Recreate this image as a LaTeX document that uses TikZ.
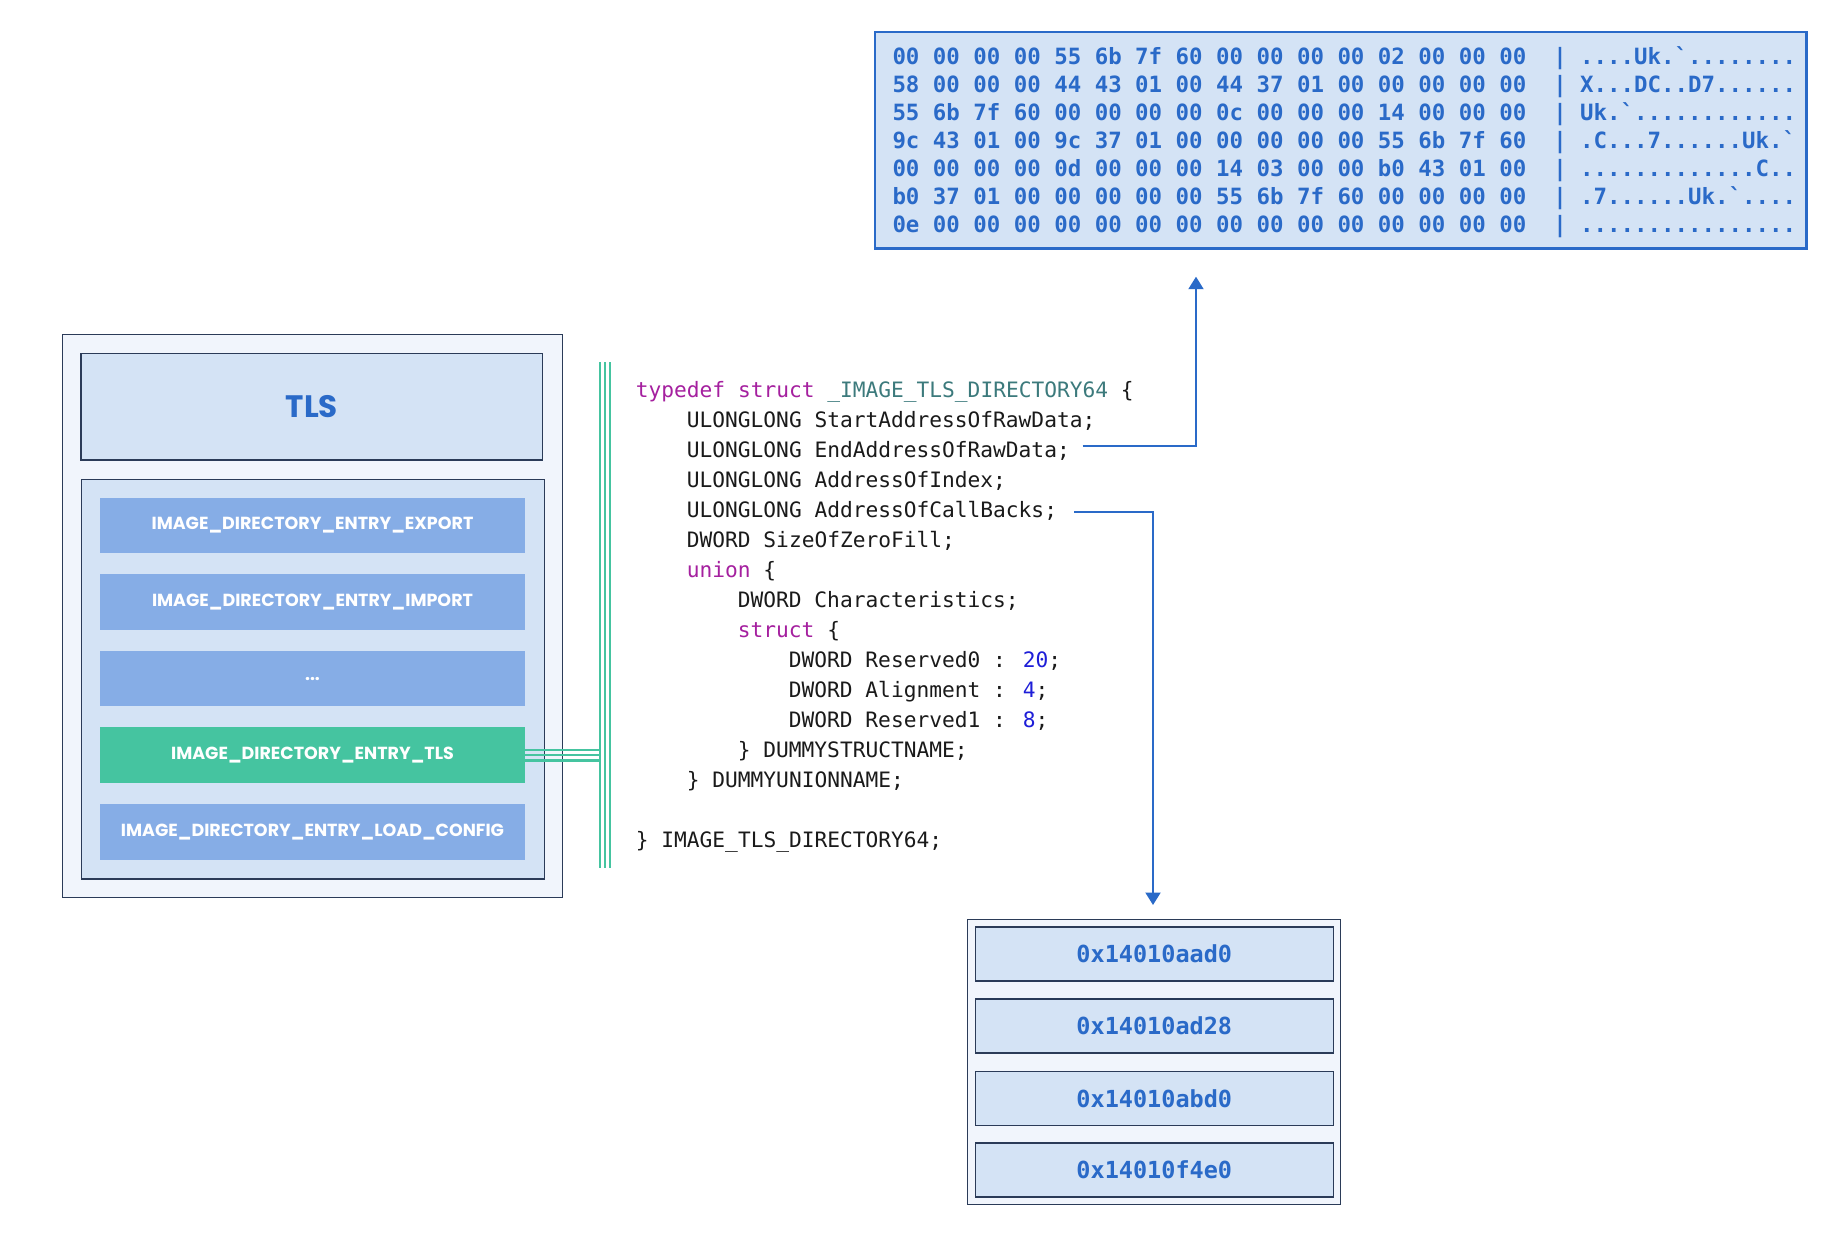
\documentclass[tikz,border=0pt]{standalone}
\usepackage{fontspec}
\usetikzlibrary{arrows.meta}
\newfontfamily\codefont{DejaVu Sans Mono}
\newfontfamily\labfont{Poppins}
\definecolor{lightfill}{HTML}{D4E3F5}
\definecolor{paleFill}{HTML}{F1F5FC}
\definecolor{navy}{HTML}{2B3B58}
\definecolor{barblue}{HTML}{86ADE6}
\definecolor{tlsgreen}{HTML}{45C4A0}
\definecolor{txtblue}{HTML}{2A6AC8}
\definecolor{kw}{HTML}{A5209F}
\definecolor{ty}{HTML}{3C7A7C}
\definecolor{num}{HTML}{1E1ED8}
\definecolor{codeblack}{HTML}{1A1A1A}
\tikzset{
  box/.style={draw=navy, line width=1.5pt, inner sep=0pt, outer sep=0pt},
  bar/.style={fill=barblue, inner sep=0pt, outer sep=0pt, text=white,
    minimum width=425pt, minimum height=55.5pt,
    font=\labfont\bfseries\fontsize{17.5}{20}\selectfont},
  addrrow/.style={box, fill=lightfill, text=txtblue, minimum width=358pt, minimum height=54pt,
    font=\codefont\bfseries\fontsize{23.5}{26}\selectfont},
  codeline/.style={anchor=base west, inner sep=0pt, text=codeblack,
    font=\codefont\fontsize{21.2}{25}\selectfont},
  hexline/.style={anchor=base west, inner sep=0pt, text=txtblue,
    font=\codefont\bfseries\fontsize{22.4}{26}\selectfont},
  bluearrow/.style={draw=txtblue, line width=2pt, -{Triangle[length=12.5pt,width=15pt]}},
  greenline/.style={draw=tlsgreen, line width=2.2pt}
}
\begin{document}
\begin{tikzpicture}[x=1pt,y=-1pt]
\fill[white] (0,0) rectangle (1826,1248);
\useasboundingbox (0,0) rectangle (1826,1248);

% ---------- left panel ----------
\node[box, fill=paleFill, minimum width=500pt, minimum height=562.6pt] (outer) at (312.3,616) {};
\node[box, fill=lightfill, minimum width=461.7pt, minimum height=106.3pt,
  text=txtblue, font=\labfont\bfseries\fontsize{31}{34}\selectfont] (tls) at (311.85,406.85) {TLS};
\node[box, fill=lightfill, minimum width=462.6pt, minimum height=399.7pt] (inner) at (313,679.15) {};
\node[bar] (exp) at (312.5,525.4) {IMAGE\_DIRECTORY\_ENTRY\_EXPORT};
\node[bar] (imp) at (312.5,602) {IMAGE\_DIRECTORY\_ENTRY\_IMPORT};
\node[bar] (dots) at (312.5,678.6) {...};
\node[bar, fill=tlsgreen] (tlsbar) at (312.5,755.2) {IMAGE\_DIRECTORY\_ENTRY\_TLS};
\node[bar] (load) at (312.5,831.8) {IMAGE\_DIRECTORY\_ENTRY\_LOAD\_CONFIG};

% ---------- green triple connector ----------
\coordinate (g1t) at (599.7,362);  \coordinate (g1b) at (599.7,867.7);
\coordinate (g2t) at (604.7,362);  \coordinate (g2b) at (604.7,867.7);
\coordinate (g3t) at (609.7,362);  \coordinate (g3b) at (609.7,867.7);
\draw[greenline] (g1t) -- (g1b);
\draw[greenline] (g2t) -- (g2b);
\draw[greenline] (g3t) -- (g3b);
\draw[greenline] ([yshift=-5.2pt]tlsbar.east) -- ([yshift=-5.2pt]tlsbar.east -| g1t);
\draw[greenline] (tlsbar.east) -- (tlsbar.east -| g1t);
\draw[greenline] ([yshift=5.2pt]tlsbar.east) -- ([yshift=5.2pt]tlsbar.east -| g1t);

% ---------- code ----------
\node[codeline] (c0) at (635.7,397) {{\color{kw}typedef struct} {\color{ty}\_IMAGE\_TLS\_DIRECTORY64} \{};
\node[codeline] (c1) at (686.7,427) {ULONGLONG StartAddressOfRawData;};
\node[codeline] (c2) at (686.7,457) {ULONGLONG EndAddressOfRawData;};
\node[codeline] (c3) at (686.7,487) {ULONGLONG AddressOfIndex;};
\node[codeline] (c4) at (686.7,517) {ULONGLONG AddressOfCallBacks;};
\node[codeline] (c5) at (686.7,547) {DWORD SizeOfZeroFill;};
\node[codeline] (c6) at (686.7,577) {{\color{kw}union} \{};
\node[codeline] (c7) at (737.7,607) {DWORD Characteristics;};
\node[codeline] (c8) at (737.7,637) {{\color{kw}struct} \{};
\node[codeline] (c9) at (788.7,667) {DWORD Reserved0 : {\color{num}20};};
\node[codeline] (c10) at (788.7,697) {DWORD Alignment : {\color{num}4};};
\node[codeline] (c11) at (788.7,727) {DWORD Reserved1 : {\color{num}8};};
\node[codeline] (c12) at (737.7,757) {\} DUMMYSTRUCTNAME;};
\node[codeline] (c13) at (686.7,787) {\} DUMMYUNIONNAME;};
\node[codeline] (c15) at (635.7,847) {\} IMAGE\_TLS\_DIRECTORY64;};

% ---------- hex dump ----------
\node[draw=txtblue, line width=2.5pt, fill=lightfill, inner sep=0pt,
  minimum width=931.7pt, minimum height=216.3pt] (hex) at (1340.85,140.15) {};
\node[hexline] (h0) at (892.3,64) {00 00 00 00 55 6b 7f 60 00 00 00 00 02 00 00 00~~| ....Uk.\symbol{96}........};
\node[hexline] (h1) at (892.3,92) {58 00 00 00 44 43 01 00 44 37 01 00 00 00 00 00~~| X...DC..D7......};
\node[hexline] (h2) at (892.3,120) {55 6b 7f 60 00 00 00 00 0c 00 00 00 14 00 00 00~~| Uk.\symbol{96}............};
\node[hexline] (h3) at (892.3,148) {9c 43 01 00 9c 37 01 00 00 00 00 00 55 6b 7f 60~~| .C...7......Uk.\symbol{96}};
\node[hexline] (h4) at (892.3,176) {00 00 00 00 0d 00 00 00 14 03 00 00 b0 43 01 00~~| .............C..};
\node[hexline] (h5) at (892.3,204) {b0 37 01 00 00 00 00 00 55 6b 7f 60 00 00 00 00~~| .7......Uk.\symbol{96}....};
\node[hexline] (h6) at (892.3,232) {0e 00 00 00 00 00 00 00 00 00 00 00 00 00 00 00~~| ................};

% ---------- callbacks list ----------
\node[box, fill=paleFill, minimum width=373pt, minimum height=285.4pt] (cb) at (1154.2,1062) {};
\node[addrrow] (r1) at (1154.3,954.2) {0x14010aad0};
\node[addrrow] (r2) at (1154.3,1026.2) {0x14010ad28};
\node[addrrow] (r3) at (1154.3,1098.3) {0x14010abd0};
\node[addrrow] (r4) at (1154.3,1170.2) {0x14010f4e0};

% ---------- blue arrows ----------
\coordinate (a1s) at (1082.7,445.7);
\coordinate (a1e) at (1196,276.7);
\draw[bluearrow] (a1s) -| (a1e);
\coordinate (a2s) at (1074.3,512.3);
\coordinate (a2e) at (1153,905);
\draw[bluearrow] (a2s) -| (a2e);
\end{tikzpicture}
\end{document}
